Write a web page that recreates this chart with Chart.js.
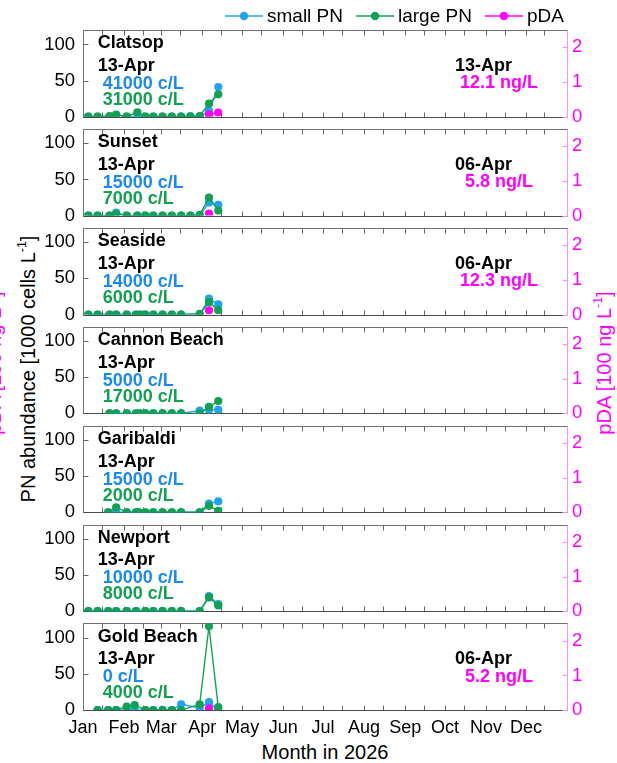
<!DOCTYPE html>
<html lang="en">
<head>
<meta charset="UTF-8">
<title>PN and pDA 2026</title>
<style>
    body { margin: 0; background: #fff; font-family: "Liberation Sans", Arial, sans-serif; }
    #wrap { position: relative; width: 617px; height: 763px; overflow: hidden; }
    #wrap canvas { position: absolute; left: 0; }
    .vt {
        position: absolute;
        white-space: nowrap;
        font-size: 20px;
        line-height: 20px;
        transform: translate(-50%, -50%) rotate(-90deg);
    }
    .vt sup { font-size: 0.62em; line-height: 0; vertical-align: 0.75em; }
    #xtitle {
        position: absolute; left: 325px; top: 752px;
        transform: translate(-50%, -50%);
        font-size: 20px; white-space: nowrap;
    }
</style>
</head>
<body>
<div id="wrap">
    <div class="vt" style="left:-6px; top:363px; color:#ff00ff;">pDA [100 ng L<sup>-1</sup>]</div>
    <div class="vt" style="left:28px; top:369px; color:#000;">PN abundance [1000 cells L<sup>-1</sup>]</div>
    <div class="vt" style="left:604px; top:363px; color:#ff00ff;">pDA [100 ng L<sup>-1</sup>]</div>
    <div id="xtitle">Month in 2026</div>
</div>

<script src="https://cdn.jsdelivr.net/npm/chart.js"></script>
<script>
    // ---- data ----
    const stations = ['Clatsop', 'Sunset', 'Seaside', 'Cannon Beach', 'Garibaldi', 'Newport', 'Gold Beach'];

    const pnDates = [
        ['01-05','01-12','01-21','01-26','02-03','02-11','02-17','02-23','03-02','03-09','03-16','03-23','03-30','04-06','04-13'],
        ['01-05','01-12','01-21','01-26','02-03','02-11','02-17','02-23','03-02','03-09','03-16','03-23','03-30','04-06','04-13'],
        ['01-05','01-12','01-21','01-26','02-03','02-10','02-13','02-17','02-23','03-02','03-09','03-16','03-30','04-06','04-13'],
        ['01-21','01-26','02-03','02-10','02-13','02-17','02-23','03-02','03-09','03-16','03-30','04-06','04-13'],
        ['01-20','01-26','02-03','02-10','02-12','02-17','02-23','03-02','03-09','03-16','03-30','04-06','04-13'],
        ['01-05','01-12','01-20','01-26','02-03','02-10','02-17','02-23','03-02','03-09','03-16','03-30','04-06','04-13'],
        ['01-12','01-20','01-26','02-03','02-09','02-17','02-23','03-02','03-09','03-16','03-30','04-06','04-13']
    ];
    // 1000 cells / L
    const smallPN = [
        [0,0,0,2,0,0,0,0,0,0,0,1,0,8,41],
        [0,0,0,4,0,0,0,0,0,0,0,0,0,18,15],
        [0,0,0,0,0,0,0,0,0,0,0,0,0,22,14],
        [0,0,0,0,0,0,0,0,0,0,4,5,5],
        [0,0,0,0,0,0,0,0,0,0,0,12,15],
        [0,0,0,0,0,0,0,0,0,0,0,0,21,10],
        [0,0,0,0,0,0,0,0,0,8,3,11,0]
    ];
    const largePN = [
        [0,0,1,3,0,6,0,0,0,0,0,0,1,18,31],
        [0,0,0,2,0,0,0,0,0,0,0,0,1,25,7],
        [0,0,0,0,0,0,0,0,0,0,0,0,1,17,6],
        [0,0,0,0,0,0,0,0,0,0,0,9,17],
        [0,7,0,0,0,0,0,0,0,0,0,9,2],
        [0,0,0,0,0,0,0,0,0,0,0,0,19,8],
        [0,0,0,5,7,0,0,0,0,0,8,116,4]
    ];
    // 100 ng / L
    const pdaDates = [['04-06','04-13'], ['04-06'], ['04-06'], [], [], [], ['04-06']];
    const pdaVals  = [[0.068, 0.121], [0.058], [0.123], [], [], [], [0.052]];

    // latest values printed in each panel
    const pnLatestDate = ['13-Apr','13-Apr','13-Apr','13-Apr','13-Apr','13-Apr','13-Apr'];
    const smallLatest  = [41000, 15000, 14000, 5000, 15000, 10000, 0];
    const largeLatest  = [31000, 7000, 6000, 17000, 2000, 8000, 4000];
    const pdaLatestDate = ['13-Apr','06-Apr','06-Apr', null, null, null, '06-Apr'];
    const pdaLatest     = [12.1, 5.8, 12.3, null, null, null, 5.2];

    const monthNames = ['Jan','Feb','Mar','Apr','May','Jun','Jul','Aug','Sep','Oct','Nov','Dec'];
    const pnTicks  = [0, 50, 100];
    const pdaTicks = [0, 1, 2];
    const seriesNames = ['small PN', 'large PN', 'pDA'];

    // ---- helpers ----
    const doy = s => {
        const [m, d] = s.split('-').map(Number);
        return (Date.UTC(2026, m - 1, d) - Date.UTC(2026, 0, 1)) / 864e5;
    };
    const monthStart = monthNames.map((_, i) => (Date.UTC(2026, i, 1) - Date.UTC(2026, 0, 1)) / 864e5);
    const monthMid = monthNames.map((_, i) => (Date.UTC(2026, i, 15) - Date.UTC(2026, 0, 1)) / 864e5);
    const xTicks = [...monthStart, ...monthMid, 365].sort((a, b) => a - b);

    const BLUE = '#1ea4f2', BLUE_TXT = '#1a8af2';
    const GREEN = '#12a152', GREEN_TXT = '#12a152';
    const PINK = '#ff00ff', PINK_AXIS = '#ff8cff';
    const FONT = '"Liberation Sans", Arial, sans-serif';

    const W = 617, PL = 83, PR = 567, T0 = 30, STEP = 98.9, PH = 86.7;
    const MARGIN = 24;

    const panelPlugin = {
        id: 'panel',
        beforeDatasetsDraw(chart, args, o) {
            const {ctx, chartArea: a, scales} = chart;
            const i = o.index;
            const top = Math.round(a.top) + 0.5, bot = Math.round(a.bottom) + 0.5;
            const lft = Math.round(a.left) + 0.5, rgt = Math.round(a.right) + 0.5;
            ctx.save();
            ctx.lineWidth = 1;
            // inward ticks
            ctx.strokeStyle = '#666';
            ctx.beginPath();
            xTicks.forEach(v => {
                const x = Math.round(scales.x.getPixelForValue(v)) + 0.5;
                ctx.moveTo(x, top); ctx.lineTo(x, top + 5);
                ctx.moveTo(x, bot); ctx.lineTo(x, bot - 5);
            });
            pnTicks.forEach(v => {
                const y = Math.round(scales.y.getPixelForValue(v)) + 0.5;
                ctx.moveTo(lft, y); ctx.lineTo(lft + 5, y);
            });
            ctx.stroke();
            // frame
            ctx.strokeStyle = '#707070';
            ctx.beginPath();
            ctx.moveTo(lft, bot); ctx.lineTo(lft, top); ctx.lineTo(rgt, top);
            ctx.stroke();
            ctx.strokeStyle = '#4a4a4a';
            ctx.beginPath();
            ctx.moveTo(lft, bot); ctx.lineTo(rgt, bot);
            ctx.stroke();
            ctx.strokeStyle = PINK_AXIS;
            ctx.beginPath();
            ctx.moveTo(rgt, top); ctx.lineTo(rgt, bot);
            pdaTicks.forEach(v => {
                const y = Math.round(scales.y2.getPixelForValue(v)) + 0.5;
                ctx.moveTo(rgt, y); ctx.lineTo(rgt - 5, y);
            });
            ctx.stroke();

            // panel text
            ctx.font = 'bold 18px ' + FONT;
            ctx.textBaseline = 'middle';
            ctx.textAlign = 'left';
            ctx.fillStyle = '#000';
            ctx.fillText(stations[i], a.left + 14.7, a.top + 13.5);
            ctx.fillText(pnLatestDate[i], a.left + 14.7, a.top + 36);
            ctx.fillStyle = BLUE_TXT;
            ctx.fillText(' ' + smallLatest[i] + ' c/L', a.left + 14.7, a.top + 54);
            ctx.fillStyle = GREEN_TXT;
            ctx.fillText(' ' + largeLatest[i] + ' c/L', a.left + 14.7, a.top + 70);
            if (pdaLatestDate[i]) {
                ctx.fillStyle = '#000';
                ctx.fillText(pdaLatestDate[i], 455, a.top + 36);
                ctx.fillStyle = PINK;
                ctx.fillText(pdaLatest[i].toFixed(1).padStart(5, ' ') + ' ng/L', 455, a.top + 53.5);
            }
            ctx.restore();
        },
        afterDraw(chart, args, o) {
            if (o.index !== 0) return;
            const ctx = chart.ctx;
            const colors = [BLUE, GREEN, PINK];
            ctx.save();
            ctx.font = '19px ' + FONT;
            ctx.textBaseline = 'middle';
            let x = 225;
            const y = 16;
            seriesNames.forEach((name, k) => {
                ctx.strokeStyle = colors[k];
                ctx.lineWidth = 1.5;
                ctx.beginPath();
                ctx.moveTo(x, y); ctx.lineTo(x + 38, y);
                ctx.stroke();
                ctx.fillStyle = colors[k];
                ctx.beginPath();
                ctx.arc(x + 19, y, 4.2, 0, Math.PI * 2);
                ctx.fill();
                ctx.fillStyle = '#000';
                ctx.fillText(name, x + 42, y + 1);
                x += 42 + ctx.measureText(name).width + 13;
            });
            ctx.restore();
        }
    };

    const wrap = document.getElementById('wrap');

    stations.forEach((name, i) => {
        const last = i === stations.length - 1;
        const top = T0 + i * STEP;
        const cTop = i === 0 ? 0 : Math.floor(top) - MARGIN;
        const padTop = top - cTop;
        const xAxisH = last ? 50 : 0;
        const cH = last ? 763 - cTop : Math.ceil(padTop + PH + MARGIN);
        const padBottom = cH - padTop - PH - xAxisH;

        const canvas = document.createElement('canvas');
        canvas.width = W;
        canvas.height = cH;
        canvas.style.top = cTop + 'px';
        wrap.appendChild(canvas);

        const ptStyle = c => ({
            borderColor: c, backgroundColor: c, pointBackgroundColor: c,
            pointBorderWidth: 0, pointRadius: 4.1, borderWidth: 1.4, tension: 0
        });

        new Chart(canvas, {
            type: 'line',
            data: {
                datasets: [
                    Object.assign({
                        label: 'pDA', yAxisID: 'y2',
                        data: pdaDates[i].map((d, k) => ({x: doy(d), y: pdaVals[i][k]}))
                    }, ptStyle(PINK)),
                    Object.assign({
                        label: 'large PN', yAxisID: 'y',
                        data: pnDates[i].map((d, k) => ({x: doy(d), y: largePN[i][k]}))
                    }, ptStyle(GREEN)),
                    Object.assign({
                        label: 'small PN', yAxisID: 'y',
                        data: pnDates[i].map((d, k) => ({x: doy(d), y: smallPN[i][k]}))
                    }, ptStyle(BLUE))
                ]
            },
            options: {
                responsive: false,
                animation: false,
                events: [],
                layout: { padding: { top: padTop, bottom: padBottom, left: 0, right: 0 } },
                plugins: {
                    legend: { display: false },
                    tooltip: { enabled: false },
                    panel: { index: i }
                },
                scales: {
                    x: {
                        type: 'linear',
                        min: 0, max: 365,
                        display: last,
                        grid: { display: false, drawTicks: false },
                        border: { display: false },
                        afterBuildTicks: s => { s.ticks = xTicks.map(v => ({value: v})); },
                        afterFit: s => { s.height = xAxisH; },
                        ticks: {
                            autoSkip: false, maxRotation: 0, padding: 7,
                            color: '#000',
                            font: { family: FONT, size: 18 },
                            callback: v => {
                                const m = monthStart.indexOf(v);
                                return m >= 0 ? monthNames[m] : '';
                            }
                        }
                    },
                    y: {
                        position: 'left',
                        min: 0, max: 120,
                        grid: { display: false, drawTicks: false },
                        border: { display: false },
                        afterBuildTicks: s => { s.ticks = pnTicks.map(v => ({value: v})); },
                        afterFit: s => { s.width = PL; },
                        ticks: { padding: 8, color: '#000', font: { family: FONT, size: 18.5 } }
                    },
                    y2: {
                        position: 'right',
                        min: 0, max: 2.5,
                        grid: { display: false, drawTicks: false },
                        border: { display: false },
                        afterBuildTicks: s => { s.ticks = pdaTicks.map(v => ({value: v})); },
                        afterFit: s => { s.width = W - PR; },
                        ticks: { padding: 5, color: PINK, font: { family: FONT, size: 18.5 } }
                    }
                }
            },
            plugins: [panelPlugin]
        });
    });
</script>
</body>
</html>
